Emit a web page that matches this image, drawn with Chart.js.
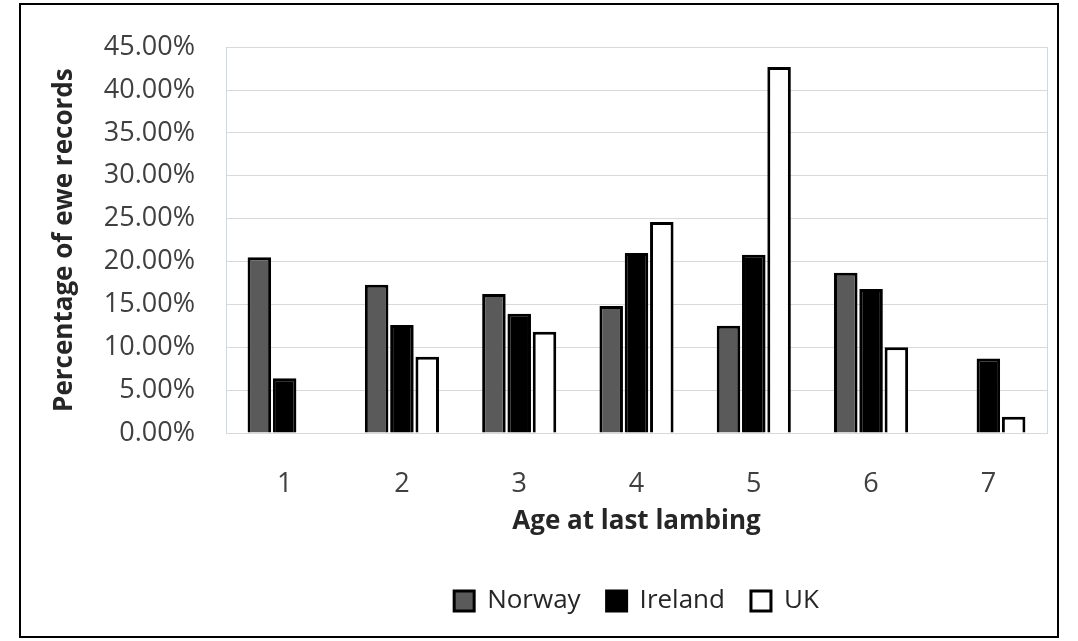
<!DOCTYPE html>
<html>
<head>
<meta charset="utf-8">
<script src="https://cdn.jsdelivr.net/npm/chart.js@4.4.1/dist/chart.umd.min.js"></script>
<style>
  body { margin: 0; background: #fff; }
  #wrap { position: relative; width: 1078px; height: 641px; }
  #frame { position: absolute; left: 19px; top: 3px; width: 1036px; height: 631px; border: 2px solid #000; pointer-events: none; }
  canvas { position: absolute; left: 0; top: 0; }
</style>
</head>
<body>
<div id="wrap">
  <canvas id="chart" width="1078" height="641"></canvas>
  <div id="frame"></div>
</div>
<script>
const ages = ['1', '2', '3', '4', '5', '6', '7'];
const norway = [20.5, 17.3, 16.2, 14.8, 12.5, 18.7, 0];
const ireland = [6.4, 12.6, 13.9, 21.0, 20.8, 16.8, 8.7];
const uk = [0, 8.9, 11.8, 24.6, 42.7, 10.0, 1.9];
const yTickLabels = ['0.00%', '5.00%', '10.00%', '15.00%', '20.00%', '25.00%', '30.00%', '35.00%', '40.00%', '45.00%'];

Chart.defaults.font.family = "'Open Sans', sans-serif";
Chart.defaults.color = '#333333';

// legend is centred under the plot area, not the whole canvas
const legendUnderPlot = {
    id: 'legendUnderPlot',
    afterLayout(chart) {
        chart.legend.left = chart.chartArea.left;
        chart.legend.right = chart.chartArea.right;
    }
};

var ctx = document.getElementById('chart').getContext('2d');
var myChart = new Chart(ctx, {
    type: 'bar',
    data: {
        labels: ages,
        datasets: [{
            label: 'Norway',
            data: norway,
            backgroundColor: '#5a5a5a',
            borderColor: '#000000',
            borderWidth: 3
        }, {
            label: 'Ireland',
            data: ireland,
            backgroundColor: '#000000',
            borderColor: '#000000',
            borderWidth: 3
        }, {
            label: 'UK',
            data: uk,
            backgroundColor: '#ffffff',
            borderColor: '#000000',
            borderWidth: 3
        }]
    },
    options: {
        responsive: false,
        animation: false,
        datasets: {
            bar: { categoryPercentage: 0.647, barPercentage: 0.93 }
        },
        layout: {
            padding: { left: 20, right: 31, top: 40, bottom: 17 }
        },
        scales: {
            x: {
                grid: { display: false },
                border: { color: '#d9d9d9' },
                ticks: { padding: 27, font: { size: 27 }, color: '#404040' },
                title: {
                    display: true,
                    text: 'Age at last lambing',
                    font: { size: 26, weight: 'bold' },
                    color: '#262626',
                    padding: { top: 0, bottom: 25 }
                },
                afterFit: function (scale) { scale.height = 129; }
            },
            y: {
                min: 0,
                max: 45,
                grid: { color: '#d9d9d9', drawTicks: false },
                border: { color: '#c6d9f0' },
                ticks: {
                    stepSize: 5,
                    padding: 31,
                    font: { size: 27 },
                    color: '#404040',
                    callback: function (value, index) { return yTickLabels[index]; }
                },
                title: {
                    display: true,
                    text: 'Percentage of ewe records',
                    font: { size: 26, weight: 'bold' },
                    color: '#262626',
                    padding: { top: 29, bottom: 0 }
                },
                afterFit: function (scale) { scale.width = 206; }
            },
            // right edge of the plot area
            y2: {
                position: 'right',
                grid: { display: false, drawTicks: false },
                border: { color: '#c6d9f0' },
                ticks: { display: false },
                afterFit: function (scale) { scale.width = 0; }
            }
        },
        plugins: {
            legend: {
                position: 'bottom',
                labels: {
                    boxWidth: 20,
                    boxHeight: 20,
                    padding: 26,
                    font: { size: 26 },
                    color: '#262626'
                }
            },
            tooltip: { enabled: false }
        }
    },
    plugins: [legendUnderPlot]
});
</script>
</body>
</html>
